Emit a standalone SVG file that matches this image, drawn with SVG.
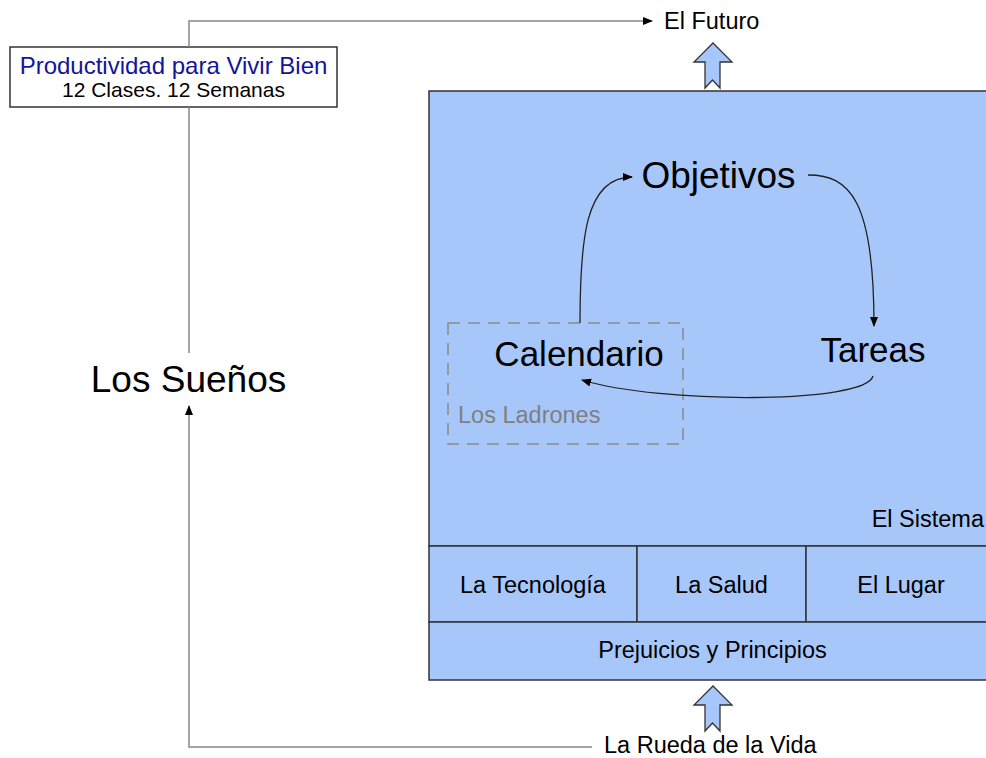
<svg xmlns="http://www.w3.org/2000/svg" width="986" height="758" viewBox="0 0 986 758">
<style>
text{font-family:"Liberation Sans",Arial,sans-serif;fill:#000}
.m{font-size:23.5px}
.b{font-size:35px}
.c{text-anchor:middle}
.gl{fill:none;stroke:#888;stroke-width:1.5}
.bl{fill:none;stroke:#222;stroke-width:1.3}
.sys{fill:#a7c7fa;stroke:#333;stroke-width:1.5}
.blk{fill:#a7c7fa;stroke:#333;stroke-width:1.3}
</style>
<defs>
<marker id="ah" viewBox="0 0 10 10" refX="9" refY="5" markerWidth="10" markerHeight="10" markerUnits="userSpaceOnUse" orient="auto">
<path d="M0,1 L10,5 L0,9 Z" fill="#000"/>
</marker>
</defs>
<rect width="986" height="758" fill="#fff"/>

<g id="sistema">
<rect class="sys" x="429" y="91" width="570" height="455"/>
<text class="m" x="984" y="527" text-anchor="end">El Sistema</text>
</g>
<g id="tecnologia">
<rect class="sys" x="429" y="546" width="208" height="76"/>
<text class="m c" x="533" y="593">La Tecnología</text>
</g>
<g id="salud">
<rect class="sys" x="637" y="546" width="169" height="76"/>
<text class="m c" x="721.5" y="593">La Salud</text>
</g>
<g id="lugar">
<rect class="sys" x="806" y="546" width="193" height="76"/>
<text class="m c" x="901" y="593">El Lugar</text>
</g>
<g id="prejuicios">
<rect class="sys" x="429" y="622" width="570" height="58"/>
<text class="m c" x="712.5" y="658">Prejuicios y Principios</text>
</g>

<g id="ladrones">
<rect x="448" y="323" width="235" height="121" fill="none" stroke="#8a8a8a" stroke-width="1.5" stroke-dasharray="12,8"/>
<text class="m" x="458" y="423" style="fill:#7f7f7f">Los Ladrones</text>
</g>

<g id="titulo">
<rect x="10" y="47" width="327" height="60" fill="#fff" stroke="#333" stroke-width="1.5"/>
<text class="c" x="173.5" y="74" style="font-size:24px;fill:#14149a">Productividad para Vivir Bien</text>
<text class="c" x="173.5" y="97" style="font-size:21px">12 Clases. 12 Semanas</text>
</g>

<g id="objetivos"><text class="c" x="718.5" y="188" style="font-size:37px">Objetivos</text></g>
<g id="calendario"><text class="b c" x="579" y="366">Calendario</text></g>
<g id="tareas"><text class="b c" x="873" y="362">Tareas</text></g>
<g id="suenos"><text class="c" x="188.5" y="392" style="font-size:37px">Los Sueños</text></g>
<g id="futuro"><text class="m" x="664" y="29">El Futuro</text></g>
<g id="rueda"><text class="m" x="604" y="753">La Rueda de la Vida</text></g>

<g id="connectors">
<path class="gl" d="M189,47 V21 H652" marker-end="url(#ah)"/>
<path class="gl" d="M189,107 V353"/>
<path class="gl" d="M592,747 H189 V406" marker-end="url(#ah)"/>
<path class="bl" d="M580,323 C580,240 585,177 632,177" marker-end="url(#ah)"/>
<path class="bl" d="M808,175 C850,175 874,200 874,326" marker-end="url(#ah)"/>
<path class="bl" d="M873,376 C866,404 660,404 582,380" marker-end="url(#ah)"/>
<path class="blk" d="M713,43 L732,62 L720,62 L720,88 L712.5,80 L705,88 L705,62 L694,62 Z"/>
<path class="blk" d="M713,686 L732,705 L720,705 L720,731 L712.5,723 L705,731 L705,705 L694,705 Z"/>
</g>
</svg>
